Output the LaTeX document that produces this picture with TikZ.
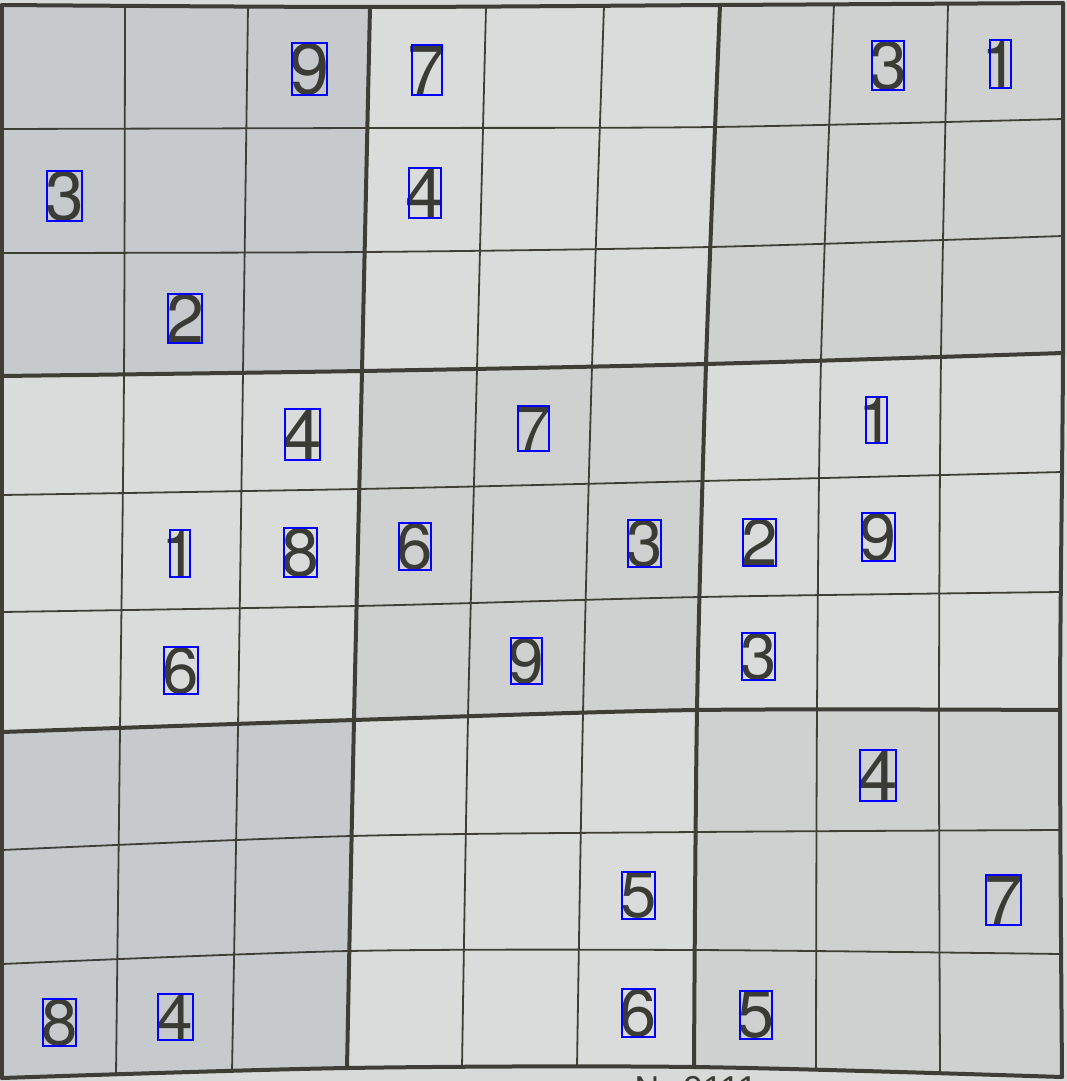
\documentclass[tikz,border=0pt]{standalone}
\usepackage{fontspec}
\setmainfont{Liberation Sans}
\newfontfamily\digfont{TeX Gyre Heros}
\usetikzlibrary{fit}
\definecolor{paper}{HTML}{D7DAD8}
\definecolor{blkdark}{HTML}{C7CACC}
\definecolor{blkmid}{HTML}{CED1D0}
\definecolor{blklight}{HTML}{D9DCDA}
\definecolor{ink}{HTML}{3B3B36}
\definecolor{gridink}{HTML}{3E3E37}
\definecolor{boxblue}{HTML}{0000FF}
\tikzset{
  thinline/.style={draw=gridink, line width=1.8pt, line join=round},
  thickline/.style={draw=gridink, line width=4pt, line join=round, line cap=round},
  digit/.style={text=ink, inner sep=0pt, outer sep=0pt},
  bbox/.style={draw=boxblue, line width=1.3pt, inner sep=0pt, outer sep=0pt},
  notext/.style={text=ink, inner sep=0pt, font=\fontsize{36pt}{36pt}\selectfont}
}
\newcommand\dg[6]{%
  \coordinate (#1a) at (#2,#3);
  \coordinate (#1b) at (#4,#5);
  \pgfmathsetmacro\dgfs{(#5-#3)/0.72}%
  \node[digit, font=\digfont\fontsize{\dgfs pt}{\dgfs pt}\selectfont] (#1t) at ({(#2+#4)/2},{(#3+#5)/2}) {#6};
  \node[bbox, fit=(#1a)(#1b)] (#1) {};
}
\begin{document}
\begin{tikzpicture}[x=1pt,y=-1pt]
\clip (0,0) rectangle (1067,1081);
\fill[paper] (0,0) rectangle (1067,1081);
% thick intersections
\coordinate (P00) at (2,5);    \coordinate (P01) at (370,7);   \coordinate (P02) at (720,5);   \coordinate (P03) at (1063,3);
\coordinate (P10) at (2,376);  \coordinate (P11) at (362,371); \coordinate (P12) at (706,364); \coordinate (P13) at (1063,353);
\coordinate (P20) at (2,732);  \coordinate (P21) at (354,720); \coordinate (P22) at (697,710); \coordinate (P23) at (1060,710);
\coordinate (P30) at (2,1078); \coordinate (P31) at (347,1068);\coordinate (P32) at (694,1067);\coordinate (P33) at (1062,1077);
% block shading
\fill[blkdark]  (P00)--(P01)--(P11)--(P10)--cycle;
\fill[blklight] (P01)--(P02)--(P12)--(P11)--cycle;
\fill[blkmid]   (P02)--(P03)--(P13)--(P12)--cycle;
\fill[blklight] (P10)--(P11)--(P21)--(P20)--cycle;
\fill[blkmid]   (P11)--(P12)--(P22)--(P21)--cycle;
\fill[blklight] (P12)--(P13)--(P23)--(P22)--cycle;
\fill[blkdark]  (P20)--(P21)--(P31)--(P30)--cycle;
\fill[blklight] (P21)--(P22)--(P32)--(P31)--cycle;
\fill[blkmid]   (P22)--(P23)--(P33)--(P32)--cycle;
% thin vertical lines
\draw[thinline] plot[smooth] coordinates {(125,5) (124,374) (120,730) (116,1075)};
\draw[thinline] plot[smooth] coordinates {(248,6) (243,373) (238,727) (232,1072)};
\draw[thinline] plot[smooth] coordinates {(486,7) (477,369) (468,717) (462,1068)};
\draw[thinline] plot[smooth] coordinates {(604,6) (592,366) (583,713) (577,1067)};
\draw[thinline] plot[smooth] coordinates {(834,4) (821,360) (817,710) (816,1070)};
\draw[thinline] plot[smooth] coordinates {(948,4) (941,356) (939,710) (940,1073)};
% thin horizontal lines
\draw[thinline] plot[smooth] coordinates {(2,129) (367,128) (714,127) (1063,119)};
\draw[thinline] plot[smooth] coordinates {(2,253) (365,252) (710,247) (1063,236)};
\draw[thinline] plot[smooth] coordinates {(2,495) (359,489) (703,481) (1062,472)};
\draw[thinline] plot[smooth] coordinates {(2,612) (357,606) (700,597) (1061,592)};
\draw[thinline] plot[smooth] coordinates {(2,850) (351,836) (696,832) (1061,830)};
\draw[thinline] plot[smooth] coordinates {(2,964) (349,951) (695,950) (1061,954)};
% thick vertical lines
\draw[thickline] plot[smooth] coordinates {(P00) (P10) (P20) (P30)};
\draw[thickline] plot[smooth] coordinates {(P01) (P11) (P21) (P31)};
\draw[thickline] plot[smooth] coordinates {(P02) (P12) (P22) (P32)};
\draw[thickline] plot[smooth] coordinates {(P03) (P13) (P23) (P33)};
% thick horizontal lines
\draw[thickline] plot[smooth] coordinates {(P00) (P01) (P02) (P03)};
\draw[thickline] plot[smooth] coordinates {(P10) (P11) (P12) (P13)};
\draw[thickline] plot[smooth] coordinates {(P20) (P21) (P22) (P23)};
\draw[thickline] plot[smooth] coordinates {(P30) (P31) (P32) (P33)};
% digits with boxes
\dg{d1}{292}{43}{327}{95}{9}
\dg{d2}{412}{45}{442}{95}{7}
\dg{d3}{872}{41}{904}{90}{3}
\dg{d4}{990}{40}{1011}{88}{1}
\dg{d5}{47}{171}{82}{221}{3}
\dg{d6}{409}{168}{441}{218}{4}
\dg{d7}{168}{294}{202}{343}{2}
\dg{d8}{285}{409}{320}{460}{4}
\dg{d9}{518}{406}{549}{451}{7}
\dg{d10}{866}{397}{887}{443}{1}
\dg{d11}{170}{530}{190}{577}{1}
\dg{d12}{284}{528}{317}{577}{8}
\dg{d13}{399}{523}{431}{570}{6}
\dg{d14}{628}{520}{661}{567}{3}
\dg{d15}{743}{519}{776}{566}{2}
\dg{d16}{862}{513}{895}{561}{9}
\dg{d17}{164}{647}{198}{694}{6}
\dg{d18}{511}{638}{542}{684}{9}
\dg{d19}{742}{633}{775}{680}{3}
\dg{d20}{860}{750}{896}{801}{4}
\dg{d21}{622}{872}{655}{919}{5}
\dg{d22}{986}{875}{1021}{925}{7}
\dg{d23}{622}{989}{655}{1037}{6}
\dg{d24}{43}{999}{76}{1046}{8}
\dg{d25}{158}{994}{193}{1040}{4}
\dg{d26}{740}{991}{772}{1039}{5}
% puzzle number, cut off by the lower edge
\node[notext, anchor=base west] (num) at (634,1101) {№ 0111};
\end{tikzpicture}
\end{document}
